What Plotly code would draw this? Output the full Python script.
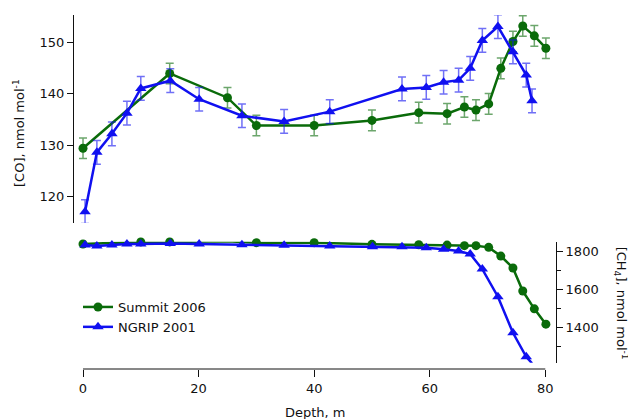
import plotly.graph_objects as go

# ---- data ----
co_summit_depth = [0, 15, 25, 30, 40, 50, 58.1, 63, 66, 68, 70.2, 72.3, 74.4, 76.1, 78.1, 80.1]
co_summit = [129.4, 143.9, 139.2, 133.8, 133.8, 134.8, 136.3, 136.1, 137.4, 136.8, 138.0, 144.9, 150.1, 153.1, 151.2, 148.8]
co_summit_err = [2.0, 2.0, 2.0, 2.0, 2.0, 2.0, 2.0, 2.0, 2.0, 2.0, 2.0, 2.0, 2.0, 2.0, 2.0, 2.0]

co_ngrip_depth = [0.35, 2.4, 5.0, 7.6, 10.0, 15.1, 20.1, 27.5, 34.8, 42.7, 55.2, 59.4, 62.4, 65.0, 67.0, 69.1, 71.8, 74.4, 76.7, 77.7]
co_ngrip = [117.1, 128.6, 132.2, 136.2, 141.0, 142.5, 138.9, 135.7, 134.6, 136.5, 140.9, 141.2, 142.2, 142.6, 144.9, 150.3, 153.0, 148.1, 143.6, 138.6]
co_ngrip_err = [2.3, 2.3, 2.3, 2.3, 2.3, 2.3, 2.3, 2.3, 2.3, 2.3, 2.3, 2.3, 2.3, 2.3, 2.3, 2.3, 2.3, 2.3, 2.3, 2.3]

ch4_summit_depth = [0, 10, 15, 25, 30, 40, 50, 58.1, 63, 66, 68, 70.2, 72.3, 74.4, 76.1, 78.1, 80.1]
ch4_summit = [1841, 1852, 1852, 1855, 1848, 1848, 1839, 1837, 1835, 1832, 1832, 1823, 1777, 1714, 1592, 1498, 1417]

ch4_ngrip_depth = [0.35, 2.4, 5.0, 7.6, 10.0, 15.1, 20.1, 27.5, 34.8, 42.7, 50.1, 55.2, 59.4, 62.4, 65.0, 67.0, 69.1, 71.8, 74.4, 76.7, 77.7]
ch4_ngrip = [1835, 1830, 1835, 1841, 1841, 1844, 1841, 1837, 1834, 1830, 1826, 1826, 1821, 1813, 1804, 1788, 1708, 1562, 1371, 1244, 1210]

x_ticks = [0, 20, 40, 60, 80]

GREEN = "#0a6b0a"
BLUE = "#1010f0"
FONT = "DejaVu Sans"

fig = go.Figure()

fig.add_trace(go.Scatter(
    x=co_summit_depth, y=co_summit, yaxis="y", mode="lines+markers",
    name="Summit 2006", legendgroup="s", showlegend=True,
    line=dict(color=GREEN, width=2.5),
    marker=dict(symbol="circle", size=9, color=GREEN),
    error_y=dict(type="data", array=co_summit_err, color="rgba(10,107,10,0.6)", thickness=1.5, width=4),
    cliponaxis=False,
))
fig.add_trace(go.Scatter(
    x=co_ngrip_depth, y=co_ngrip, yaxis="y", mode="lines+markers",
    name="NGRIP 2001", legendgroup="n", showlegend=True,
    line=dict(color=BLUE, width=2.5),
    marker=dict(symbol="triangle-up", size=10, color=BLUE),
    error_y=dict(type="data", array=co_ngrip_err, color="rgba(16,16,240,0.6)", thickness=1.5, width=4),
    cliponaxis=False,
))
fig.add_trace(go.Scatter(
    x=ch4_summit_depth, y=ch4_summit, yaxis="y2", mode="lines+markers",
    name="Summit 2006", legendgroup="s", showlegend=False,
    line=dict(color=GREEN, width=2.5),
    marker=dict(symbol="circle", size=9, color=GREEN),
    cliponaxis=False,
))
fig.add_trace(go.Scatter(
    x=ch4_ngrip_depth, y=ch4_ngrip, yaxis="y2", mode="lines+markers",
    name="NGRIP 2001", legendgroup="n", showlegend=False,
    line=dict(color=BLUE, width=2.5),
    marker=dict(symbol="triangle-up", size=10, color=BLUE),
    cliponaxis=False,
))

# page body adds an 8px offset; screen coords = figure coords + 8
OFF = 8
W, H = 636, 419
L, T = 74 - OFF, 15 - OFF
B = H - (369 - OFF)
R = W - (555.7 - OFF)
pw = W - L - R
ph = H - T - B

def px_x(px):
    return (px - OFF - L) / pw

def px_y(py):
    return (H - B - (py - OFF)) / ph

fig.update_layout(
    width=W, height=H,
    margin=dict(l=L, r=R, t=T, b=B, pad=0),
    paper_bgcolor="white", plot_bgcolor="white",
    font=dict(family=FONT, size=13, color="#111"),
    showlegend=True,
    legend=dict(x=px_x(78), y=px_y(292), xanchor="left", yanchor="top",
                bgcolor="rgba(0,0,0,0)", font=dict(size=13, family=FONT),
                tracegroupgap=0, itemwidth=30),
    xaxis=dict(
        domain=[0, 1], range=[-1.56, 81.85], anchor="free", position=0,
        showline=False, showgrid=False, zeroline=False,
        tickmode="array", tickvals=x_ticks, ticks="outside", ticklen=7,
        tickcolor="#111", tickwidth=1, tickfont=dict(size=13),
    ),
    yaxis=dict(
        domain=[px_y(223), 1], range=[114.9, 155.24], anchor="x", side="left",
        showline=True, linecolor="#111", linewidth=1,
        showgrid=False, zeroline=False,
        tickvals=[120, 130, 140, 150], ticks="outside", ticklen=6,
        tickcolor="#111", tickfont=dict(size=13),
    ),
    yaxis2=dict(
        domain=[px_y(362.7), px_y(241.7)], range=[1213, 1853], anchor="x", side="right",
        showline=True, linecolor="#111", linewidth=1,
        showgrid=False, zeroline=False,
        tickvals=[1400, 1600, 1800], ticks="outside", ticklen=6,
        tickcolor="#111", tickfont=dict(size=13),
        minor=dict(tickvals=[1300, 1500, 1700], ticks="outside", ticklen=4, tickcolor="#111"),
    ),
    shapes=[dict(type="line", xref="x", yref="paper", x0=0, x1=80, y0=0, y1=0,
                 line=dict(color="#111", width=1))],
    annotations=[
        dict(text="[CO], nmol mol<sup>-1</sup>", textangle=-90, xref="paper", yref="paper",
             x=px_x(19), y=px_y(133), xanchor="center", yanchor="middle", showarrow=False,
             font=dict(size=13)),
        dict(text="[CH<sub>4</sub>], nmol mol<sup>-1</sup>", textangle=90, xref="paper", yref="paper",
             x=px_x(621), y=px_y(303), xanchor="center", yanchor="middle", showarrow=False,
             font=dict(size=13)),
        dict(text="Depth, m", xref="paper", yref="paper",
             x=px_x(315), y=px_y(412), xanchor="center", yanchor="middle", showarrow=False,
             font=dict(size=13)),
    ],
)

fig.write_html("out.html")
